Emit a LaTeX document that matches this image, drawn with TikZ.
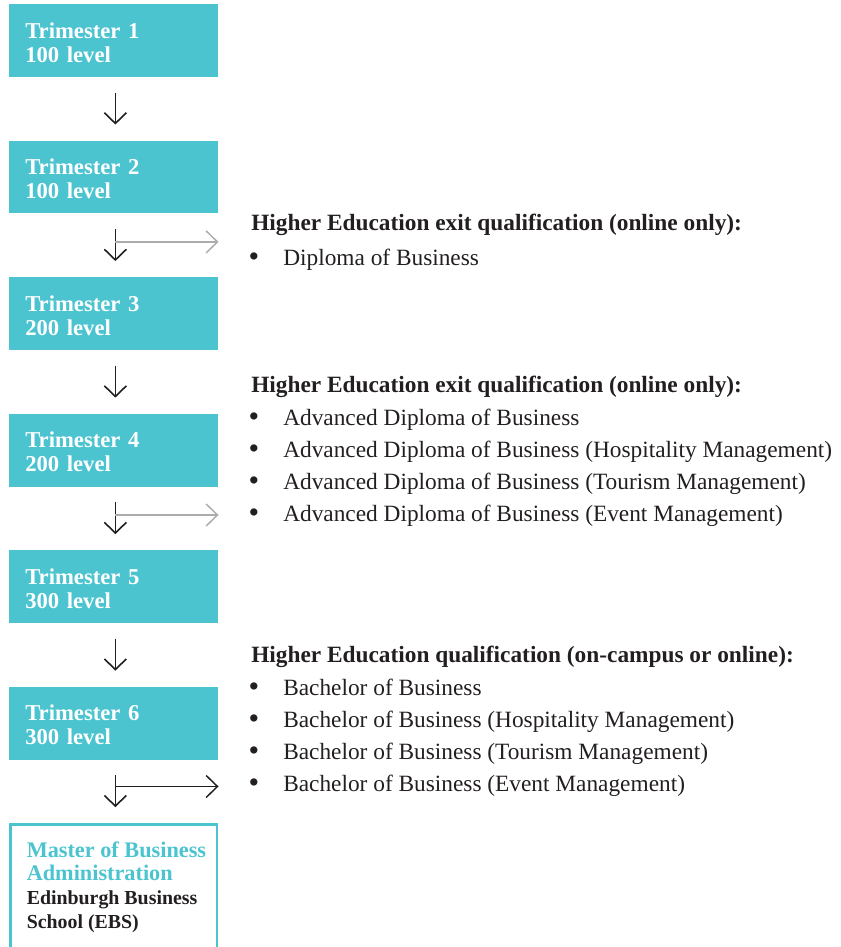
\documentclass[tikz,border=0pt]{standalone}
\usepackage{fontspec}
\setmainfont{Liberation Serif}
\usetikzlibrary{arrows.meta,positioning,calc}
\definecolor{termteal}{RGB}{75,196,208}
\definecolor{exitgray}{RGB}{172,172,172}
\definecolor{inkblack}{RGB}{35,31,32}
\tikzset{
  termbox/.style={fill=termteal, text=white, font=\bfseries\fontsize{17}{18}\selectfont,
    minimum width=156.75pt, minimum height=54.5pt, inner xsep=12pt, inner ysep=0pt,
    text width=132.75pt, align=left, text height=14.3pt},
  mbaframe/.style={draw=termteal, line width=2pt, minimum width=154.9pt, minimum height=150pt, inner sep=0pt},
  mbatext/.style={inner sep=0pt, align=left, text=inkblack, font=\bfseries\fontsize{16.7}{17.6}\selectfont},
  downarrow/.style={draw=inkblack, line width=1.2pt, -{Straight Barb[length=8pt, width=16.5pt]},
    shorten <=11.5pt, shorten >=12pt},
  exitarrow/.style={line width=1.1pt, -{Straight Barb[length=8.5pt, width=16.5pt]}},
  qualhead/.style={anchor=base west, inner sep=0pt, text=inkblack, font=\bfseries\fontsize{17.5}{20}\selectfont},
  qualitem/.style={anchor=base west, inner sep=0pt, text=inkblack, font=\fontsize{17.5}{20}\selectfont}
}
\newcommand{\qualbullet}{\llap{\raisebox{-1.2pt}{\scalebox{1.3}{\textbullet}}\hspace{18pt}}}
\begin{document}
\begin{tikzpicture}[x=0.75pt, y=-0.75pt]
\useasboundingbox (0,0) rectangle (840,947);
\clip (0,0) rectangle (840,947);

% trimester boxes
\node[termbox, anchor=north west] (t1) at (9,4) {Trimester 1\\100 level};
\node[termbox, below=47.5pt of t1] (t2) {Trimester 2\\100 level};
\node[termbox, below=47.5pt of t2] (t3) {Trimester 3\\200 level};
\node[termbox, below=47.5pt of t3] (t4) {Trimester 4\\200 level};
\node[termbox, below=47.5pt of t4] (t5) {Trimester 5\\300 level};
\node[termbox, below=47.5pt of t5] (t6) {Trimester 6\\300 level};

% master box, open at the bottom of the page
\node[mbaframe, below=47.5pt of t6, anchor=north] (mba) {};
\node[mbatext, anchor=north west] (mbaname) at ([xshift=13pt, yshift=-13.5pt]mba.north west)
  {\textcolor{termteal}{Master of Business}\\\textcolor{termteal}{Administration}\\[0.4pt]
   {\fontsize{14.9}{16}\selectfont Edinburgh Business}\\[0.3pt]{\fontsize{14.9}{16}\selectfont School (EBS)}};

% arrows down the column
\foreach \a/\b in {t1/t2, t2/t3, t3/t4, t4/t5, t5/t6, t6/mba}
  \draw[downarrow] ([xshift=1.2pt]\a.south) -- ([xshift=1.2pt]\b.north);

% exit arrows
\coordinate (exit1) at ($([xshift=1.2pt]t2.south)!0.445!([xshift=1.2pt]t3.north)$);
\coordinate (exit2) at ($([xshift=1.2pt]t4.south)!0.445!([xshift=1.2pt]t5.north)$);
\coordinate (exit3) at ($([xshift=1.2pt]t6.south)!0.42!([xshift=1.2pt]mba.north)$);
\draw[exitarrow, draw=exitgray] (exit1) -- (exit1 -| t2.east);
\draw[exitarrow, draw=exitgray] (exit2) -- (exit2 -| t4.east);
\draw[exitarrow, draw=inkblack] (exit3) -- (exit3 -| t6.east);

% qualifications
\node[qualhead] (h1) at (251,230) {Higher Education exit qualification (online only):};
\node[qualitem] (d1) at (283,265) {\qualbullet Diploma of Business};

\node[qualhead] (h2) at (251,392) {Higher Education exit qualification (online only):};
\foreach \txt [count=\i] in {Advanced Diploma of Business,
    Advanced Diploma of Business (Hospitality Management),
    Advanced Diploma of Business (Tourism Management),
    Advanced Diploma of Business (Event Management)}
  \node[qualitem] (ad\i) at (283,393+32*\i) {\qualbullet \txt};

\node[qualhead] (h3) at (251,662) {Higher Education qualification (on-campus or online):};
\foreach \txt [count=\i] in {Bachelor of Business,
    Bachelor of Business (Hospitality Management),
    Bachelor of Business (Tourism Management),
    Bachelor of Business (Event Management)}
  \node[qualitem] (ba\i) at (283,663+32*\i) {\qualbullet \txt};
\end{tikzpicture}
\end{document}
